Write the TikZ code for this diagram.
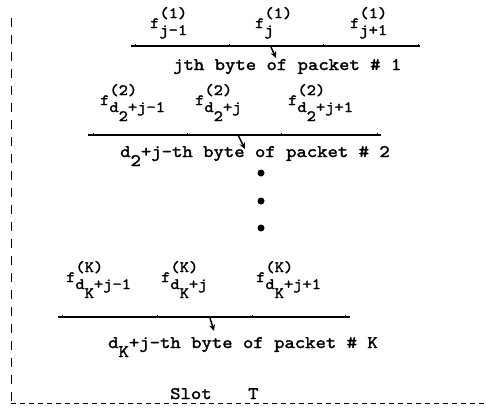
\documentclass[tikz,border=0pt]{standalone}
\usepackage{fontspec}
\newfontfamily\cour{lmmono10-regular.otf}[FakeStretch=1.12, FakeBold=1.8]
\usetikzlibrary{arrows.meta}
\newcommand\flab[2]{f\rlap{\raisebox{10bp}{#1}}\raisebox{-7bp}{#2}}
\newcommand\dsub[1]{d\raisebox{-9bp}{#1}}
\begin{document}
\begin{tikzpicture}[x=1bp,y=-1bp,
  txt/.style={font=\cour\fontsize{17.7}{20}\selectfont, inner sep=0pt, anchor=base west},
  lbl/.style={font=\cour\fontsize{15.8}{18}\selectfont, inner sep=0pt, anchor=base west},
  axis/.style={line width=1.3bp},
  tickmark/.style={line width=1bp},
  ptr/.style={line width=1.5bp, -{Stealth[length=6.5bp,width=6bp]}},
  dotnode/.style={circle, fill=black, inner sep=0pt, minimum size=7bp},
  vframe/.style={line width=0.9bp, dash pattern=on 9bp off 8bp},
  hframe/.style={line width=1bp, dash pattern=on 5bp off 4bp}]
\useasboundingbox (0,0) rectangle (486,413);

% frame
\coordinate (c0) at (11,18);
\coordinate (c1) at (11,403);
\coordinate (c2) at (486,403);
\draw[vframe] (c0) -- (c1);
\draw[hframe] (c1) -- (c2);

% row 1
\coordinate (l1a) at (131,46);
\coordinate (l1b) at (420,46);
\draw[axis] (l1a) -- (l1b);
\foreach \x in {135,229,323,418} \draw[tickmark] (\x,46) -- (\x,43.5);
\node[lbl] (f11) at (150,28) {\flab{(1)}{j-1}};
\node[lbl] (f12) at (255,28) {\flab{(1)}{j}};
\node[lbl] (f13) at (350,28) {\flab{(1)}{j+1}};
\node[txt] (t1) at (173,70) {jth byte of packet \# 1};
\coordinate (a1s) at (271,47);
\coordinate (a1e) at (276,58);
\draw[ptr] (a1s) -- (a1e);

% row 2
\coordinate (l2a) at (88,135);
\coordinate (l2b) at (381,135);
\draw[axis] (l2a) -- (l2b);
\foreach \x in {93,187,281,377} \draw[tickmark] (\x,135) -- (\x,132.5);
\node[lbl] (f21) at (100,105) {\flab{(2)}{\dsub{2}+j-1}};
\node[lbl] (f22) at (195,105) {\flab{(2)}{\dsub{2}+j}};
\node[lbl] (f23) at (288,105) {\flab{(2)}{\dsub{2}+j+1}};
\node[txt] (t2) at (120,157) {\dsub{2}+j-th byte of packet \# 2};
\coordinate (a2s) at (238,135);
\coordinate (a2e) at (245,149);
\draw[ptr] (a2s) -- (a2e);

% dots
\node[dotnode] (d1) at (261,173) {};
\node[dotnode] (d2) at (261,201) {};
\node[dotnode] (d3) at (261,228) {};

% row K
\coordinate (lka) at (58,317);
\coordinate (lkb) at (350,317);
\draw[axis] (lka) -- (lkb);
\foreach \x in {62,157,252,345} \draw[tickmark] (\x,317) -- (\x,314.5);
\node[lbl] (fk1) at (66,282) {\flab{(K)}{\dsub{K}+j-1}};
\node[lbl] (fk2) at (161,282) {\flab{(K)}{\dsub{K}+j}};
\node[lbl] (fk3) at (256,282) {\flab{(K)}{\dsub{K}+j+1}};
\node[txt] (tk) at (108,348) {\dsub{K}+j-th byte of packet \# K};
\coordinate (aks) at (210,318);
\coordinate (ake) at (214,331);
\draw[ptr] (aks) -- (ake);

% slot
\node[txt] (slot) at (170,399) {Slot};
\node[txt] (slotT) at (248,399) {T};
\end{tikzpicture}
\end{document}
